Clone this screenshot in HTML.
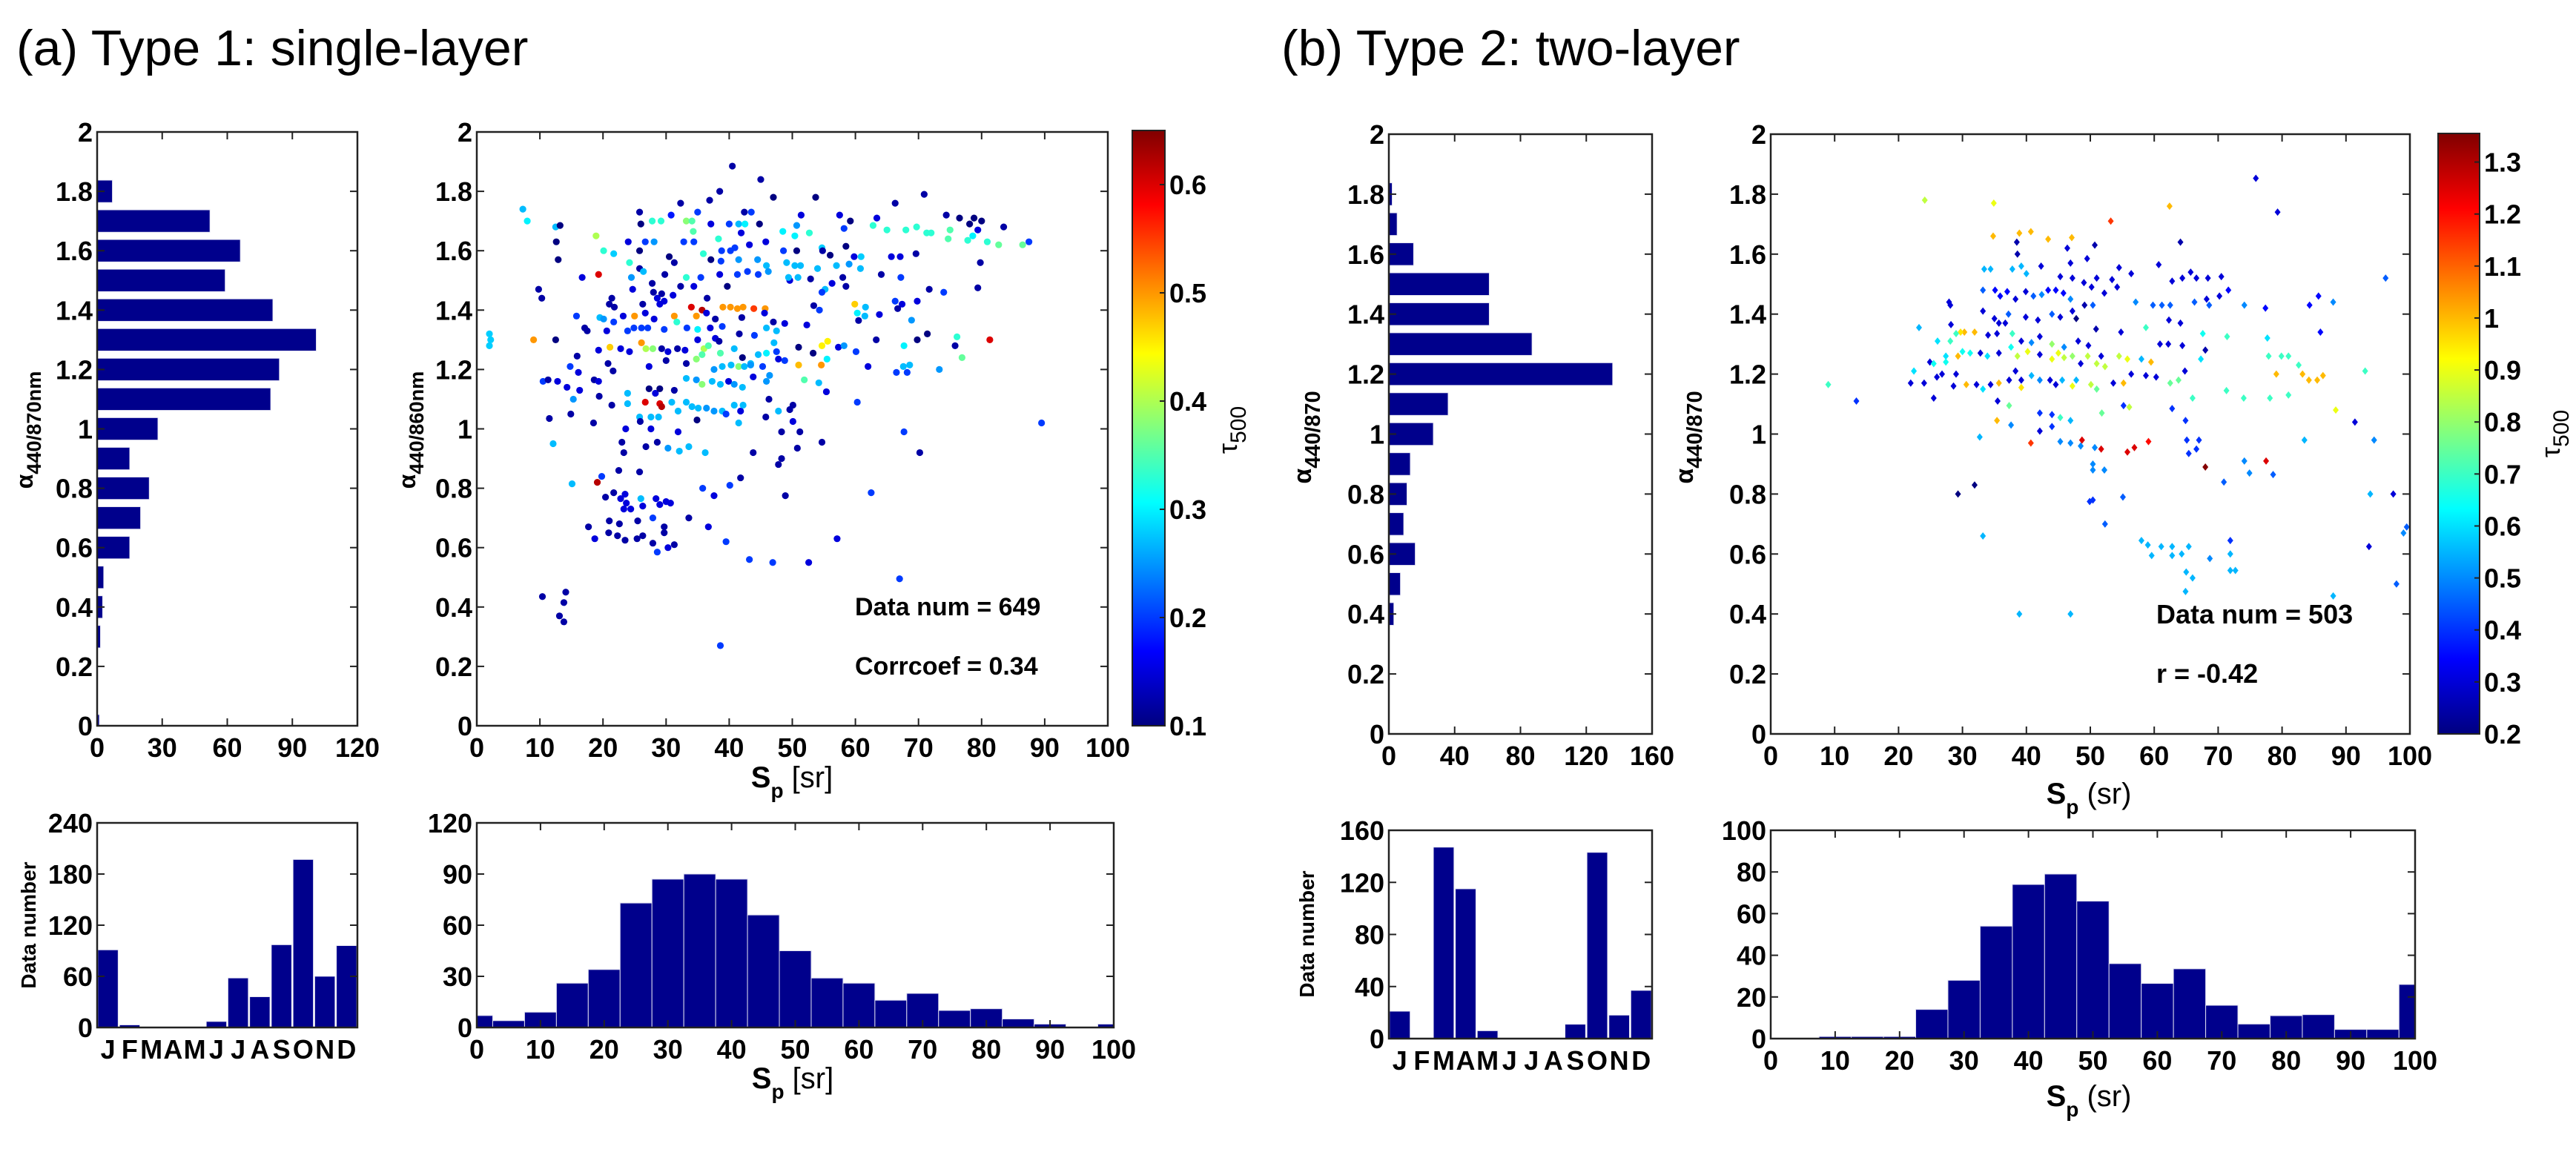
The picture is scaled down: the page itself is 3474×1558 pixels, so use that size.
<!DOCTYPE html>
<html><head><meta charset="utf-8"><style>
html,body{margin:0;padding:0;background:#fff;}
svg{display:block;font-family:"Liberation Sans",Arial,sans-serif;}
</style></head><body>
<svg id="fig" xmlns="http://www.w3.org/2000/svg" width="3474" height="1558" viewBox="0 0 3474 1558">
<defs>
<linearGradient id="jetA" x1="0" y1="1" x2="0" y2="0"></linearGradient>
<linearGradient id="jetB" x1="0" y1="1" x2="0" y2="0"></linearGradient>
</defs>
<text x="22" y="88" font-size="68">(a) Type 1: single-layer</text>
<text x="1728" y="88" font-size="68">(b) Type 2: two-layer</text>
</svg>
<script>
// ---------- data ----------
const alphaBins = [0,0.1,0.2,0.3,0.4,0.5,0.6,0.7,0.8,0.9,1.0,1.1,1.2,1.3,1.4,1.5,1.6,1.7,1.8,1.9];
const alphaHistA = [1,0,0,1.5,2.5,3,15,20,24,15,28,80,84,101,81,59,66,52,7,0];
const alphaHistB = [0,0,0,0,3,7,16,9,11,13,27,36,136,87,61,61,15,5,2,0];
const monthLabels = ['J','F','M','A','M','J','J','A','S','O','N','D'];
const monthCountsA = [91,3,0,0,0,7,58,36,97,197,60,96];
const monthCountsB = [21,0,147,115,6,0,0,11,143,18,37,0];
const spCenters = [0,5,10,15,20,25,30,35,40,45,50,55,60,65,70,75,80,85,90,95,100];
const spCountsA = [7,4,9,26,34,73,87,90,87,66,45,29,26,16,20,10,11,5,2,0,2];
const spCountsB = [0,0,1,1,1,14,28,54,74,79,66,36,26.5,33.5,16,7,11,11.5,4.4,4.4,26];
// fix month B order (D bar = 37, N = 18, O = 143, S = 11)
monthCountsB[8]=11; monthCountsB[9]=143; monthCountsB[10]=18; monthCountsB[11]=37; monthCountsB[7]=0;
const alphaTicks = [0,0.2,0.4,0.6,0.8,1,1.2,1.4,1.6,1.8,2];
const alphaTickLabels = ['0','0.2','0.4','0.6','0.8','1','1.2','1.4','1.6','1.8','2'];
const spTicks = [0,10,20,30,40,50,60,70,80,90,100];
const histATicks = [0,30,60,90,120];
const histBTicks = [0,40,80,120,160];
const monthATicks = [0,60,120,180,240];
const monthBTicks = [0,40,80,120,160];
const spHistATicks = [0,30,60,90,120];
const spHistBTicks = [0,20,40,60,80,100];
const cbATicks = [0.1,0.2,0.3,0.4,0.5,0.6];
const cbBTicks = [0.2,0.3,0.4,0.5,0.6,0.7,0.8,0.9,1,1.1,1.2,1.3];
// scatter A points: [Sp, alpha, tau500]
const scatterA = [
[40.5,1.885,.12],[45,1.84,.12],[38.5,1.80,.12],[47,1.78,.1],[53.7,1.78,.1],[70.9,1.79,.12],[66.3,1.76,.12],[36.9,1.77,.12],[32.3,1.76,.12],[7.3,1.74,.27],
[8,1.70,.3],[25.8,1.73,.12],[26,1.69,.1],[30.8,1.72,.18],[35,1.73,.2],[42.4,1.73,.12],[43.5,1.73,.2],[51.4,1.72,.15],[57.5,1.72,.15],[63.4,1.71,.15],
[74.4,1.72,.12],[76.5,1.71,.1],[78.8,1.71,.1],[80,1.70,.1],[78.1,1.69,.1],[83.5,1.68,.12],[79.4,1.67,.15],[59.2,1.70,.1],[58.2,1.675,.2],[50.7,1.685,.25],
[62.8,1.685,.33],[65,1.67,.33],[68,1.67,.33],[69.7,1.68,.33],[71.3,1.66,.33],[72,1.66,.33],[75,1.67,.35],[74.7,1.64,.35],[77.8,1.635,.33],[78.6,1.65,.3],
[80.9,1.63,.33],[82.7,1.62,.36],[86.5,1.62,.36],[87.5,1.63,.2],[27.8,1.70,.33],[29.2,1.70,.33],[33.2,1.70,.38],[34.1,1.70,.35],[12.5,1.68,.27],[13.2,1.685,.1],
[12.6,1.63,.1],[12.9,1.57,.1],[18.9,1.65,.4],[20.1,1.60,.33],[21.7,1.59,.28],[24,1.63,.15],[25.8,1.60,.1],[26.7,1.63,.2],[28.1,1.63,.25],[32.8,1.63,.2],
[34.3,1.665,.35],[34.4,1.63,.2],[37.1,1.69,.15],[38.3,1.64,.33],[40,1.69,.2],[41.5,1.69,.27],[42.5,1.69,.3],[44.8,1.69,.1],[41.9,1.66,.15],[45.8,1.63,.15],
[40.9,1.61,.2],[43.2,1.62,.15],[35.9,1.59,.33],[38.8,1.60,.2],[40.2,1.60,.2],[48.5,1.665,.3],[50.4,1.65,.3],[52.7,1.66,.33],[48.6,1.60,.2],[50.7,1.60,.1],
[54.7,1.61,.28],[54.8,1.60,.12],[56,1.585,.1],[58.5,1.615,.1],[59.8,1.58,.15],[60.9,1.58,.28],[65.7,1.58,.15],[69.6,1.59,.12],[79.8,1.56,.12],[30.5,1.58,.1],
[31.3,1.56,.12],[37.1,1.57,.1],[38.7,1.565,.2],[41.5,1.57,.25],[44.5,1.57,.25],[45.9,1.55,.27],[49.1,1.56,.27],[50.4,1.55,.27],[51.3,1.55,.27],[54,1.54,.27],
[57,1.55,.27],[59,1.555,.25],[60.8,1.54,.27],[67.1,1.58,.15],[24.2,1.56,.33],[25.8,1.54,.12],[16.7,1.51,.15],[19.3,1.52,.6],[9.8,1.47,.12],[10.3,1.44,.12],
[24.5,1.51,.25],[26.4,1.53,.27],[29.8,1.52,.12],[33.2,1.51,.33],[35.5,1.51,.2],[38.5,1.52,.15],[41.3,1.52,.2],[42.9,1.53,.2],[44.6,1.52,.2],[46.2,1.53,.25],
[49.6,1.50,.15],[49.4,1.51,.27],[50.9,1.51,.27],[52.9,1.505,.12],[58,1.51,.12],[64.1,1.52,.12],[67.2,1.51,.2],[79.4,1.475,.12],[71.7,1.47,.12],[74,1.46,.2],
[56.3,1.49,.15],[58.5,1.48,.12],[55.2,1.47,.27],[54.7,1.46,.2],[39.7,1.48,.1],[36.5,1.44,.12],[34.4,1.48,.15],[32.3,1.48,.12],[31.1,1.45,.15],[27.8,1.49,.12],
[28,1.46,.12],[28.6,1.44,.15],[29.3,1.455,.12],[29.7,1.43,.15],[29,1.42,.15],[26.3,1.42,.12],[24.7,1.47,.15],[21.4,1.44,.12],[21,1.42,.12],[21.8,1.41,.12],
[15.8,1.38,.2],[19.5,1.375,.27],[20.1,1.37,.25],[23.2,1.38,.15],[25,1.38,.5],[26.7,1.39,.15],[28.1,1.37,.15],[31.3,1.38,.5],[31.7,1.36,.33],[34,1.41,.6],
[35.7,1.40,.62],[36.4,1.39,.15],[34.8,1.38,.5],[37.8,1.37,.12],[39,1.41,.5],[40.2,1.41,.5],[41.3,1.405,.5],[42.2,1.41,.5],[43.9,1.405,.55],[45.7,1.405,.5],
[42,1.375,.12],[45.6,1.39,.15],[47,1.36,.12],[53.4,1.415,.12],[54.3,1.40,.2],[59.9,1.42,.47],[60.3,1.39,.3],[61.6,1.41,.27],[61.5,1.38,.27],[60.5,1.365,.12],
[63.8,1.385,.15],[66.3,1.43,.2],[67.4,1.42,.15],[69.8,1.43,.15],[66.7,1.405,.12],[68.9,1.366,.25],[17.1,1.34,.12],[17.5,1.33,.12],[20.6,1.33,.15],[21.7,1.36,.2],
[23.9,1.33,.2],[24.9,1.34,.2],[26.1,1.34,.2],[27.1,1.34,.2],[29.7,1.335,.2],[33.3,1.34,.2],[35,1.335,.3],[37,1.34,.15],[38.9,1.345,.2],[41.6,1.32,.12],
[44,1.315,.2],[45.9,1.34,.27],[47.5,1.33,.27],[48.8,1.355,.15],[52.3,1.35,.15],[63.3,1.30,.12],[69.8,1.30,.1],[71.4,1.32,.1],[75.8,1.28,.12],[76.1,1.31,.33],
[81.3,1.30,.6],[2,1.32,.28],[2.2,1.30,.28],[2,1.28,.28],[9,1.30,.5],[12.5,1.30,.1],[19.3,1.265,.15],[21.1,1.275,.47],[22.8,1.27,.15],[24.2,1.26,.15],
[26.1,1.29,.5],[26.8,1.27,.4],[27.9,1.27,.38],[29.3,1.27,.12],[30.3,1.26,.15],[31.8,1.27,.12],[33,1.265,.15],[35,1.30,.15],[36,1.27,.4],[36.7,1.28,.35],
[37.8,1.305,.15],[38.4,1.295,.12],[38.6,1.255,.35],[40.8,1.27,.27],[42.1,1.24,.1],[43.4,1.22,.27],[44.6,1.25,.27],[45.9,1.255,.3],[47.1,1.29,.27],[47.5,1.26,.2],
[51,1.275,.1],[53.3,1.255,.1],[54.7,1.28,.45],[55.6,1.295,.45],[57.3,1.275,.15],[58.2,1.28,.25],[60.1,1.26,.2],[55.5,1.235,.3],[54.6,1.215,.5],[51,1.215,.48],
[67.7,1.28,.3],[67.6,1.21,.27],[68.6,1.215,.27],[76.9,1.24,.36],[73.3,1.20,.25],[62,1.21,.15],[66.5,1.19,.2],[68.2,1.19,.2],[15.9,1.245,.12],[14.8,1.21,.2],
[16.1,1.19,.15],[10.5,1.16,.2],[11.3,1.165,.12],[12.8,1.16,.15],[14.3,1.14,.15],[16.3,1.13,.15],[15.3,1.10,.25],[18.6,1.165,.12],[19.3,1.16,.15],[19.4,1.11,.12],
[20.8,1.22,.12],[21.6,1.195,.12],[27.3,1.21,.15],[30,1.23,.12],[33.2,1.22,.12],[34.8,1.235,.38],[35.7,1.25,.35],[37.6,1.20,.25],[38.9,1.21,.27],[40.3,1.215,.27],
[41.5,1.21,.38],[42.4,1.21,.27],[43.4,1.215,.25],[45.3,1.21,.2],[46.4,1.18,.25],[47.8,1.235,.15],[48.8,1.23,.2],[33.2,1.17,.27],[34.8,1.165,.25],[35.7,1.15,.38],
[37.3,1.16,.27],[38.6,1.15,.27],[39.9,1.16,.15],[40.8,1.15,.25],[42.1,1.14,.27],[43.8,1.175,.15],[45.9,1.16,.25],[51.9,1.165,.35],[54.2,1.155,.27],[55.4,1.125,.15],
[60.3,1.09,.2],[27.3,1.135,.1],[28.3,1.12,.15],[29,1.135,.1],[31.3,1.13,.12],[23.9,1.12,.27],[23.9,1.085,.27],[21.4,1.08,.12],[26.7,1.09,.6],[29,1.085,.6],
[29.3,1.075,.62],[30.9,1.09,.27],[31.9,1.06,.27],[33.2,1.09,.27],[34.1,1.075,.27],[35.1,1.07,.27],[36.4,1.07,.25],[37.6,1.06,.25],[38.9,1.06,.27],[39.5,1.05,.2],
[40.8,1.08,.27],[41.8,1.06,.15],[42.2,1.08,.27],[25.8,1.04,.27],[27.6,1.04,.27],[28.8,1.04,.27],[34.9,1.03,.1],[41.5,1.02,.27],[45.8,1.04,.12],[46.3,1.10,.12],
[47.8,1.06,.27],[49.6,1.065,.12],[50.1,1.08,.12],[50.1,1.025,.15],[14.9,1.05,.12],[11.5,1.035,.12],[18.5,1.02,.12],[23.6,1.0,.15],[25.9,1.025,.12],[27.6,1.0,.15],
[31.9,0.99,.15],[48.3,0.99,.12],[51.2,0.99,.12],[12.1,0.95,.27],[23,0.955,.12],[23.3,0.92,.12],[26.8,0.94,.12],[28.6,0.955,.12],[30.3,0.935,.25],[32.1,0.925,.27],
[33.6,0.94,.27],[36.2,0.92,.27],[43.8,0.92,.12],[48.3,0.90,.12],[47.8,0.88,.12],[50.8,0.935,.12],[54.7,0.955,.12],[67.7,0.99,.2],[70.2,0.92,.12],[89.5,1.02,.2],
[22.5,0.86,.12],[25.8,0.855,.12],[19.8,0.84,.2],[19.1,0.82,.62],[15.1,0.815,.27],[41.8,0.835,.12],[40.1,0.81,.2],[35.8,0.80,.2],[37.6,0.775,.15],[48.9,0.775,.12],
[62.5,0.785,.2],[20.4,0.77,.12],[21.7,0.785,.12],[22.8,0.765,.15],[23.5,0.78,.15],[23.7,0.75,.15],[24.4,0.73,.15],[23.3,0.73,.15],[26,0.765,.27],[26.3,0.74,.15],
[28.4,0.765,.15],[29,0.745,.15],[30,0.755,.15],[30.7,0.75,.15],[27.9,0.70,.2],[21,0.69,.12],[22.6,0.68,.12],[25.5,0.69,.12],[29.7,0.67,.12],[17.7,0.67,.12],
[20.9,0.65,.12],[22.3,0.64,.12],[23.5,0.625,.12],[25.4,0.63,.12],[26.3,0.64,.12],[29.7,0.65,.12],[18.7,0.63,.15],[27.9,0.615,.12],[28.6,0.585,.2],[30.3,0.60,.15],
[31.3,0.61,.12],[33.6,0.70,.12],[36.7,0.67,.15],[39.5,0.62,.2],[43.2,0.56,.2],[46.9,0.55,.2],[52.6,0.55,.15],[57.1,0.63,.15],[67,0.495,.2],[10.4,0.435,.12],
[14.1,0.45,.12],[13.8,0.415,.12],[13.1,0.37,.12],[13.8,0.35,.12],[38.6,0.27,.2]
];
// scatter B points: [Sp, alpha, tau500]
const scatterB = [
[75.9,1.853,.3],[79.3,1.74,.3],[24.1,1.78,.85],[34.9,1.77,.9],[62.4,1.76,1.0],[53.2,1.71,1.15],[34.8,1.66,1.0],[38.9,1.67,1.0],[40.7,1.675,1.0],[43.4,1.65,1.0],
[47.1,1.655,1.0],[38.5,1.64,.25],[38.6,1.60,.25],[46.4,1.62,.3],[50.7,1.63,.25],[64.1,1.64,.25],[49.5,1.585,.3],[60.7,1.565,.3],[33.4,1.55,.55],[34.4,1.55,.55],
[37.8,1.55,.55],[39.2,1.56,.55],[40,1.535,.55],[42.3,1.56,.3],[46.9,1.57,.3],[45.3,1.525,.3],[47.2,1.52,.3],[49,1.505,.3],[51,1.52,.3],[53.4,1.515,.3],
[54.5,1.555,.3],[56.4,1.535,.3],[54.2,1.49,.3],[50.2,1.49,.3],[33.2,1.48,.45],[35.1,1.48,.35],[35.9,1.46,.35],[37,1.475,.35],[38.3,1.45,.3],[39.9,1.475,.3],
[41.1,1.46,.45],[42.4,1.465,.5],[43.4,1.48,.35],[44.6,1.48,.35],[45.8,1.47,.35],[46.9,1.45,.5],[49.1,1.43,.25],[50.4,1.43,.45],[52.2,1.47,.3],[62.8,1.51,.3],
[64.4,1.52,.3],[65.7,1.54,.3],[66.6,1.52,.3],[68.4,1.52,.3],[70.5,1.525,.3],[71.6,1.48,.35],[70.2,1.46,.3],[68.2,1.45,.3],[66.3,1.44,.45],[68.6,1.43,.45],
[96.2,1.52,.45],[85.7,1.46,.35],[88,1.44,.5],[84.3,1.43,.35],[77.4,1.42,.35],[74.1,1.43,.5],[57.1,1.44,.5],[59.8,1.43,.45],[61.2,1.43,.45],[62.5,1.43,.45],
[27.9,1.44,.3],[28.1,1.43,.3],[33.2,1.41,.3],[35,1.385,.3],[35.7,1.37,.3],[37.2,1.40,.45],[36.7,1.37,.3],[39.9,1.39,.3],[41.8,1.38,.3],[44,1.40,.45],
[45.3,1.39,.3],[47.2,1.41,.3],[47.8,1.385,.2],[50.9,1.35,.25],[54.8,1.34,.3],[58.7,1.355,.7],[62.3,1.38,.3],[64.1,1.37,.3],[67.6,1.335,.65],[71.4,1.325,.7],
[77.7,1.32,.6],[86,1.34,.35],[23.2,1.355,.55],[28.2,1.365,.3],[30.3,1.34,1.0],[29.7,1.34,.95],[31.9,1.34,1.0],[29,1.335,.7],[28.1,1.31,.7],[27.4,1.26,.6],
[26.1,1.31,.6],[34,1.33,.3],[35.4,1.335,.3],[37.8,1.335,.7],[39.2,1.31,.3],[40.8,1.305,.5],[42.1,1.325,.3],[44,1.30,.8],[45.9,1.29,.5],[48.1,1.31,.3],
[49.7,1.295,.3],[60.9,1.30,.3],[62.2,1.30,.3],[64.4,1.295,.3],[68,1.28,.25],[22.4,1.21,.6],[24.9,1.24,.3],[25.5,1.235,.65],[27.4,1.24,.65],[29.3,1.26,1.0],
[30,1.275,.65],[31.2,1.27,.65],[32.8,1.27,.3],[33.9,1.26,.6],[35.7,1.27,.3],[37.6,1.29,.65],[38.6,1.26,.85],[40.2,1.275,.9],[42.1,1.265,.3],[44,1.25,.9],
[45,1.27,.9],[45.9,1.255,.85],[47.2,1.26,.8],[48.5,1.235,.3],[49.6,1.26,.85],[51,1.235,.85],[52.3,1.225,.85],[51.7,1.26,.3],[54.5,1.26,.85],[55.8,1.25,.9],
[58,1.25,.55],[59.5,1.24,1.0],[67.3,1.25,.6],[79.9,1.26,.7],[81,1.26,.7],[77.9,1.26,.7],[82.6,1.23,.7],[83.2,1.20,1.0],[84.2,1.18,1.0],[85.5,1.18,1.0],
[86.4,1.195,1.0],[79.1,1.20,1.0],[93,1.21,.7],[21.9,1.17,.3],[24,1.17,.3],[25.5,1.12,.3],[26,1.19,.3],[26.8,1.20,.3],[28.6,1.16,.3],[29,1.20,.3],
[30.6,1.165,1.0],[32.2,1.165,.3],[33.2,1.15,.6],[34.4,1.165,.3],[35.7,1.17,1.0],[37.3,1.18,.3],[38.3,1.21,.3],[39.2,1.18,.3],[39.2,1.155,.95],[40.8,1.195,.55],
[42.1,1.18,.5],[43.7,1.18,.3],[44.6,1.165,.3],[45.6,1.18,.55],[47.2,1.16,.9],[47.8,1.18,.55],[50.1,1.165,.85],[51,1.15,.75],[53.6,1.17,.3],[55.2,1.17,1.0],
[56.4,1.20,.3],[58.7,1.195,.3],[60.3,1.19,.3],[62.5,1.17,.75],[63.8,1.18,.75],[64.8,1.21,.3],[13.4,1.11,.4],[9,1.165,.7],[35.5,1.11,.3],[37.3,1.095,.75],
[35.4,1.045,1.0],[37.6,1.03,.5],[42.1,1.07,.4],[44,1.065,.4],[45.3,1.055,.7],[46.9,1.045,.55],[51.8,1.07,.75],[55.2,1.095,.4],[56.1,1.09,.85],[62.8,1.085,.4],
[66,1.12,.7],[71.3,1.145,.7],[74,1.12,.7],[78.1,1.12,.7],[81,1.13,.7],[88.4,1.08,.9],[91.4,1.04,.3],[94.4,0.98,.5],[83.5,0.98,.55],[42.1,1.01,.3],
[44,1.025,.4],[45.3,0.975,.5],[46.9,0.97,.5],[48.5,0.96,.5],[48.7,0.98,1.25],[50.7,0.955,.5],[51.7,0.95,1.25],[40.7,0.97,1.15],[55.8,0.94,1.25],[56.9,0.955,1.25],
[59.1,0.975,1.2],[64.9,1.045,.4],[65.1,0.98,.4],[67,0.98,.4],[65.4,0.935,.4],[66.6,0.95,.4],[68,0.89,1.35],[77.5,0.91,1.25],[74.1,0.91,.5],[74.9,0.87,.5],
[78.6,0.865,.45],[70.9,0.84,.45],[32.7,0.99,.55],[50.4,0.90,.5],[50.4,0.88,.5],[52.2,0.88,.5],[31.9,0.83,.2],[29.3,0.80,.2],[49.9,0.775,.4],[50.4,0.78,.4],
[55.1,0.79,.45],[52.3,0.70,.45],[93.8,0.80,.55],[97.4,0.80,.3],[33.2,0.66,.55],[58,0.645,.55],[59,0.63,.55],[61.1,0.625,.55],[62.8,0.625,.55],[65.4,0.625,.55],
[59.6,0.595,.55],[62.8,0.595,.55],[64.3,0.60,.55],[68.7,0.585,.5],[71.9,0.645,.4],[71.9,0.60,.55],[71.9,0.545,.55],[72.7,0.545,.55],[65,0.54,.55],[66,0.52,.55],
[64.9,0.475,.55],[93.6,0.625,.3],[99,0.67,.5],[99.5,0.69,.45],[97.9,0.50,.45],[88,0.46,.55],[38.9,0.40,.55],[46.9,0.40,.55]
];

// ---------- helpers ----------
const NS = 'http://www.w3.org/2000/svg';
const svg = document.getElementById('fig');
const NAVY = '#00008c';
function mk(tag, attrs) {
  const e = document.createElementNS(NS, tag);
  for (const k in attrs) e.setAttribute(k, attrs[k]);
  svg.appendChild(e);
  return e;
}
function jet(t) {
  t = Math.max(0, Math.min(1, t));
  const f = v => Math.round(255 * Math.max(0, Math.min(1, v)));
  return `rgb(${f(1.5 - Math.abs(4 * t - 3))},${f(1.5 - Math.abs(4 * t - 2))},${f(1.5 - Math.abs(4 * t - 1))})`;
}
function label(x, y, s, size, anchor, weight, name) {
  const t = mk('text', {x: x, y: y, 'font-size': size, 'text-anchor': anchor, 'font-weight': weight});
  t.textContent = s;
  
  
  return t;
}
function frame(L, T, R, B, name) {
  const r = mk('rect', {x: L, y: T, width: R - L, height: B - T, fill: 'none', stroke: '#222', 'stroke-width': 2.5});
  
  
}
function xAxis(L, T, R, B, vmin, vmax, vals, labs, name, ticks) {
  vals.forEach((v, i) => {
    const px = L + (v - vmin) / (vmax - vmin) * (R - L);
    if (ticks !== false) {
      const t1 = mk('line', {x1: px, y1: B, x2: px, y2: B - 10, stroke: '#222', 'stroke-width': 2});
      
      
      const t2 = mk('line', {x1: px, y1: T, x2: px, y2: T + 10, stroke: '#222', 'stroke-width': 2});
      
      
    }
    label(px, B + 42, labs ? labs[i] : String(v), 36, 'middle', 'bold', name + '-label');
  });
}
function yAxis(L, T, R, B, vmin, vmax, vals, labs, name) {
  vals.forEach((v, i) => {
    const py = B - (v - vmin) / (vmax - vmin) * (B - T);
    const t1 = mk('line', {x1: L, y1: py, x2: L + 10, y2: py, stroke: '#222', 'stroke-width': 2});
    
    
    const t2 = mk('line', {x1: R, y1: py, x2: R - 10, y2: py, stroke: '#222', 'stroke-width': 2});
    
    
    label(L - 6, py + 13, labs ? labs[i] : String(v), 36, 'end', 'bold', name + '-label');
  });
}
function rotLabel(cx, cy, main, sub, size, name) {
  const t = mk('text', {x: cx, y: cy, 'font-size': size, 'font-weight': 'bold', 'text-anchor': 'middle', transform: `rotate(-90 ${cx} ${cy})`});
  
  
  const a = document.createElementNS(NS, 'tspan'); a.textContent = main; t.appendChild(a);
  if (sub) {
    const b = document.createElementNS(NS, 'tspan');
    b.setAttribute('dy', size * 0.35);
    b.setAttribute('font-size', size * 0.85);
    b.textContent = sub; t.appendChild(b);
  }
}
function spLabel(cx, y, tail, name) {
  const t = mk('text', {x: cx, y: y, 'font-size': 40, 'font-weight': 'bold', 'text-anchor': 'middle'});
  
  
  const a = document.createElementNS(NS, 'tspan'); a.textContent = 'S'; t.appendChild(a);
  const b = document.createElementNS(NS, 'tspan'); b.setAttribute('dy', 14); b.setAttribute('font-size', 28); b.textContent = 'p'; t.appendChild(b);
  const c = document.createElementNS(NS, 'tspan'); c.setAttribute('dy', -14); c.setAttribute('font-weight', 'normal'); c.textContent = ' ' + tail; t.appendChild(c);
}

// ---------- alpha histograms (horizontal) ----------
function alphaHist(L, T, R, B, xmax, counts, xt, name) {
  const sx = v => L + v / xmax * (R - L);
  const sy = v => B - v / 2 * (B - T);
  alphaBins.forEach((c, i) => {
    if (!counts[i]) return;
    const y0 = sy(c + 0.0375), y1 = sy(c - 0.0375);
    const top = Math.max(y0, T), bot = Math.min(y1, B);
    const r = mk('rect', {x: L, y: top, width: sx(counts[i]) - L, height: bot - top, fill: NAVY, stroke: '#dde', 'stroke-width': 0.8});
    
    
  });
  frame(L, T, R, B, name + '-axes');
  xAxis(L, T, R, B, 0, xmax, xt, null, name + '-x');
  yAxis(L, T, R, B, 0, 2, alphaTicks, alphaTickLabels, name + '-y');
}
alphaHist(131, 178, 482, 979, 120, alphaHistA, histATicks, 'alpha-hist-a');
alphaHist(1873, 181, 2228, 990, 160, alphaHistB, histBTicks, 'alpha-hist-b');
rotLabel(44, 580, 'α', '440/870nm', 32, 'alpha-hist-a-y-title');
rotLabel(1768, 590, 'α', '440/870', 34, 'alpha-hist-b-y-title');

// ---------- scatter ----------
function scatter(L, T, R, B, pts, cmin, cmax, shape, name) {
  const sx = v => L + v / 100 * (R - L);
  const sy = v => B - v / 2 * (B - T);
  pts.forEach(p => {
    const col = jet((p[2] - cmin) / (cmax - cmin));
    const x = sx(p[0]), y = sy(p[1]);
    let m;
    if (shape === 'circle') m = mk('circle', {cx: x, cy: y, r: 4.6, fill: col});
    else m = mk('polygon', {points: `${x},${y - 5} ${x + 4},${y} ${x},${y + 5} ${x - 4},${y}`, fill: col});
    
    
  });
  frame(L, T, R, B, name + '-axes');
  xAxis(L, T, R, B, 0, 100, spTicks, null, name + '-x');
  yAxis(L, T, R, B, 0, 2, alphaTicks, alphaTickLabels, name + '-y');
}
scatter(643, 178, 1494, 979, scatterA, 0.1, 0.65, 'circle', 'scatter-a');
scatter(2388, 181, 3250, 990, scatterB, 0.2, 1.355, 'diamond', 'scatter-b');
rotLabel(560, 580, 'α', '440/860nm', 32, 'scatter-a-y-title');
rotLabel(2283, 590, 'α', '440/870', 34, 'scatter-b-y-title');
spLabel(1068, 1062, '[sr]', 'scatter-a-x-title');
spLabel(2817, 1084, '(sr)', 'scatter-b-x-title');
label(1153, 830, 'Data num = 649', 34, 'start', 'bold', 'data-num-a');
label(1153, 910, 'Corrcoef = 0.34', 34, 'start', 'bold', 'corrcoef-a');
label(2908, 841, 'Data num = 503', 36, 'start', 'bold', 'data-num-b');
label(2908, 921, 'r = -0.42', 36, 'start', 'bold', 'corrcoef-b');

// ---------- colorbars ----------
function colorbar(gid, L, T, R, B, cmin, cmax, ticks, name) {
  const g = document.getElementById(gid);
  for (let i = 0; i <= 16; i++) {
    const s = document.createElementNS(NS, 'stop');
    s.setAttribute('offset', i / 16);
    s.setAttribute('stop-color', jet(i / 16));
    g.appendChild(s);
  }
  const r = mk('rect', {x: L, y: T, width: R - L, height: B - T, fill: `url(#${gid})`, stroke: '#222', 'stroke-width': 2});
  
  
  ticks.forEach(v => {
    const py = B - (v - cmin) / (cmax - cmin) * (B - T);
    const t = mk('line', {x1: R - 7, y1: py, x2: R, y2: py, stroke: '#222', 'stroke-width': 2});
    
    
    label(R + 6, py + 13, String(v), 36, 'start', 'bold', name + '-label');
  });
}
colorbar('jetA', 1527, 176, 1571, 979, 0.1, 0.65, cbATicks, 'colorbar-a');
colorbar('jetB', 3288, 180, 3344, 990, 0.2, 1.355, cbBTicks, 'colorbar-b');
(function () {
  [[1668, 580, 'colorbar-a-title'], [3452, 585, 'colorbar-b-title']].forEach(d => {
    const t = mk('text', {x: d[0], y: d[1], 'font-size': 36, 'text-anchor': 'middle', transform: `rotate(-90 ${d[0]} ${d[1]})`});
    
    
    const a = document.createElementNS(NS, 'tspan'); a.textContent = 'τ'; t.appendChild(a);
    const b = document.createElementNS(NS, 'tspan'); b.setAttribute('dy', 12); b.setAttribute('font-size', 30); b.textContent = '500'; t.appendChild(b);
  });
})();

// ---------- month histograms ----------
function monthHist(L, T, R, B, ymax, counts, yt, name) {
  const w = (R - L) / 12;
  const sy = v => B - v / ymax * (B - T);
  counts.forEach((v, i) => {
    if (!v) return;
    const r = mk('rect', {x: L + i * w + 1, y: sy(v), width: w - 2, height: B - sy(v), fill: NAVY, stroke: '#dde', 'stroke-width': 0.8});
    
    
  });
  frame(L, T, R, B, name + '-axes');
  yAxis(L, T, R, B, 0, ymax, yt, null, name + '-y');
  monthLabels.forEach((m, i) => {
    label(L + (i + 0.5) * w, B + 42, m, 36, 'middle', 'bold', name + '-month-label');
  });
}
monthHist(131, 1110, 482, 1386, 240, monthCountsA, monthATicks, 'month-hist-a');
monthHist(1873, 1120, 2228, 1401, 160, monthCountsB, monthBTicks, 'month-hist-b');
rotLabel(48, 1248, 'Data number', null, 28, 'month-hist-a-y-title');
rotLabel(1772, 1260, 'Data number', null, 28, 'month-hist-b-y-title');

// ---------- Sp histograms ----------
function spHist(L, T, R, B, ymax, counts, yt, name) {
  const sx = v => L + v / 100 * (R - L);
  const sy = v => B - v / ymax * (B - T);
  spCenters.forEach((c, i) => {
    if (!counts[i]) return;
    const x0 = sx(Math.max(0, c - 2.5)), x1 = sx(Math.min(100, c + 2.5));
    const r = mk('rect', {x: x0, y: sy(counts[i]), width: x1 - x0, height: B - sy(counts[i]), fill: NAVY, stroke: '#dde', 'stroke-width': 1});
    
    
  });
  frame(L, T, R, B, name + '-axes');
  xAxis(L, T, R, B, 0, 100, spTicks, null, name + '-x');
  yAxis(L, T, R, B, 0, ymax, yt, null, name + '-y');
}
spHist(643, 1110, 1502, 1386, 120, spCountsA, spHistATicks, 'sp-hist-a');
spHist(2388, 1120, 3257, 1401, 100, spCountsB, spHistBTicks, 'sp-hist-b');
spLabel(1069, 1468, '[sr]', 'sp-hist-a-x-title');
spLabel(2817, 1492, '(sr)', 'sp-hist-b-x-title');
</script>
</body></html>
